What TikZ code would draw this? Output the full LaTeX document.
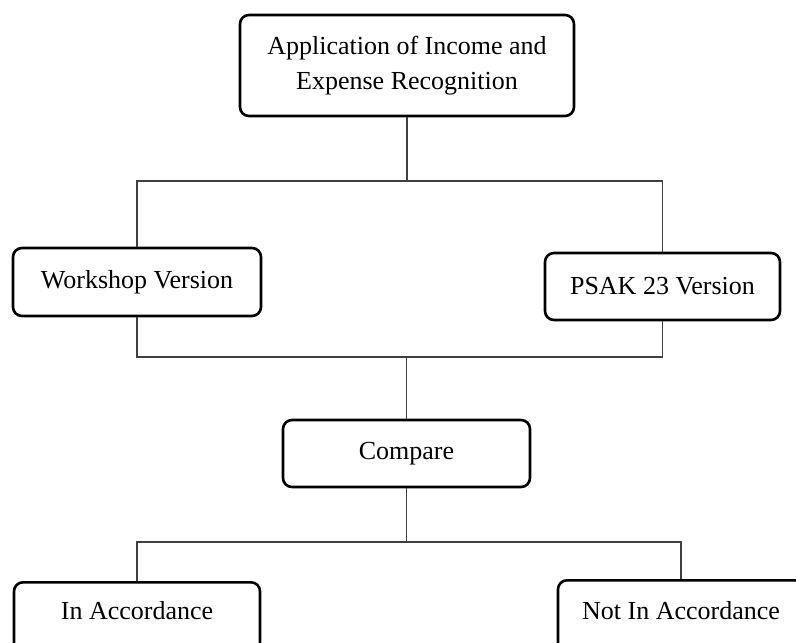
\documentclass[tikz,border=0pt]{standalone}
\usepackage{fontspec}
\setmainfont{Liberation Serif}
\begin{document}
\begin{tikzpicture}[x=1pt,y=-1pt]
	\tikzset{box/.style={draw,line width=2.6pt,rounded corners=9pt,inner sep=0,align=center,minimum width=248pt,minimum height=68pt,font=\fontsize{26}{35}\selectfont},
		link/.style={line width=1.3pt,draw=black!75}}
	\useasboundingbox (0,0) rectangle (796,643);
	\clip (0,0) rectangle (796,643);
	\node [box,minimum width=334pt,minimum height=101pt] at (407,65.5) (app) {Application of Income and\\Expense Recognition};
	\node [box] at (137,282) (work) {Workshop Version};
	\node [box,minimum width=235pt,minimum height=67pt] at (662.5,286.5) (psak) {PSAK 23 Version};
	\node [box,minimum width=247pt,minimum height=67pt] at (406.5,453.5) (cmp) {Compare};
	\node [box,minimum width=246pt,text height=37pt,text depth=32pt,anchor=north] at (137,581) (acc) {In Accordance};
	\node [box,minimum width=246pt,text height=39pt,text depth=32pt,anchor=north] at (681,579) (nacc) {Not In Accordance};
	
	\coordinate (tr) at (662.5,181);
	\coordinate (br) at (662.5,357);
	\coordinate (bb) at (681,542);
	\draw [link] (app.south) -- (app.south |- tr);
	\draw [link] (work.north) |- (tr) -- (psak.north);
	\draw [link] (work.south) |- (br) -- (psak.south);
	\draw [link] (cmp.north) -- (cmp.north |- br);
	\draw [link] (cmp.south) -- (cmp.south |- bb);
	\draw [link] (acc.north) |- (bb) -- (nacc.north);
\end{tikzpicture}
\end{document}
